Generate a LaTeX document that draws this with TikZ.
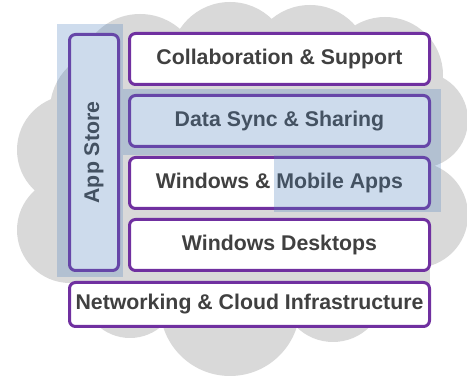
\documentclass[tikz,border=0pt]{standalone}
\usepackage{fontspec}
\setmainfont{Liberation Sans}
\definecolor{cloud_c}{RGB}{217,217,217}
\definecolor{frame_c}{RGB}{112,48,160}
\definecolor{text_c}{RGB}{64,64,64}
\definecolor{hl_c}{RGB}{79,129,189}
\usepackage{tikz}
\usetikzlibrary{positioning}
\begin{document}
\begin{tikzpicture}[
			x=1pt, y=-1pt,
			layer/.style = {draw=frame_c, line width=3pt, fill=white, rounded corners=6pt,
				text=text_c, font=\fontsize{21.3}{25}\selectfont\bfseries,
				inner sep=0pt, minimum width=300pt, minimum height=51pt},
			highlight/.style = {fill=hl_c, fill opacity=0.28},
			]
			\useasboundingbox (0,0) rectangle (467,377);
			% cloud
			\fill[cloud_c] (140,75) circle(61pt) (230,62) circle(60pt) (310,65) circle(60pt)
				(385,75) circle(58pt) (420,120) circle(48pt) (415,215) circle(53pt)
				(333,290) circle(52pt) (230,306) circle(70pt) (130,290) circle(48pt)
				(70,230) circle(53pt) (72,150) circle(55pt) (110,110) circle(60pt);
			\fill[cloud_c] (90,60) rectangle (430,300);
			% layers
			\node[layer] (collab) at (279.5,59) {Collaboration \& Support};
			\node[layer, below=8pt of collab] (sync) {Data Sync \& Sharing};
			\node[layer, below=8pt of sync] (apps) {Windows \& Mobile Apps};
			\node[layer, below=8pt of apps] (desktops) {Windows Desktops};
			\node[layer, rotate=90, minimum width=236pt, minimum height=49pt] (store) at (94,152.5) {App Store};
			\node[layer, minimum width=360pt, minimum height=44pt] (infra) at (249.5,304.5) {Networking \& Cloud Infrastructure};
			% highlights
			\fill[highlight] (57,24) rectangle (123,277);
			\fill[highlight] (123,89) rectangle (441,155);
			\fill[highlight] (274,155) rectangle (441,212);
		\end{tikzpicture}
\end{document}
